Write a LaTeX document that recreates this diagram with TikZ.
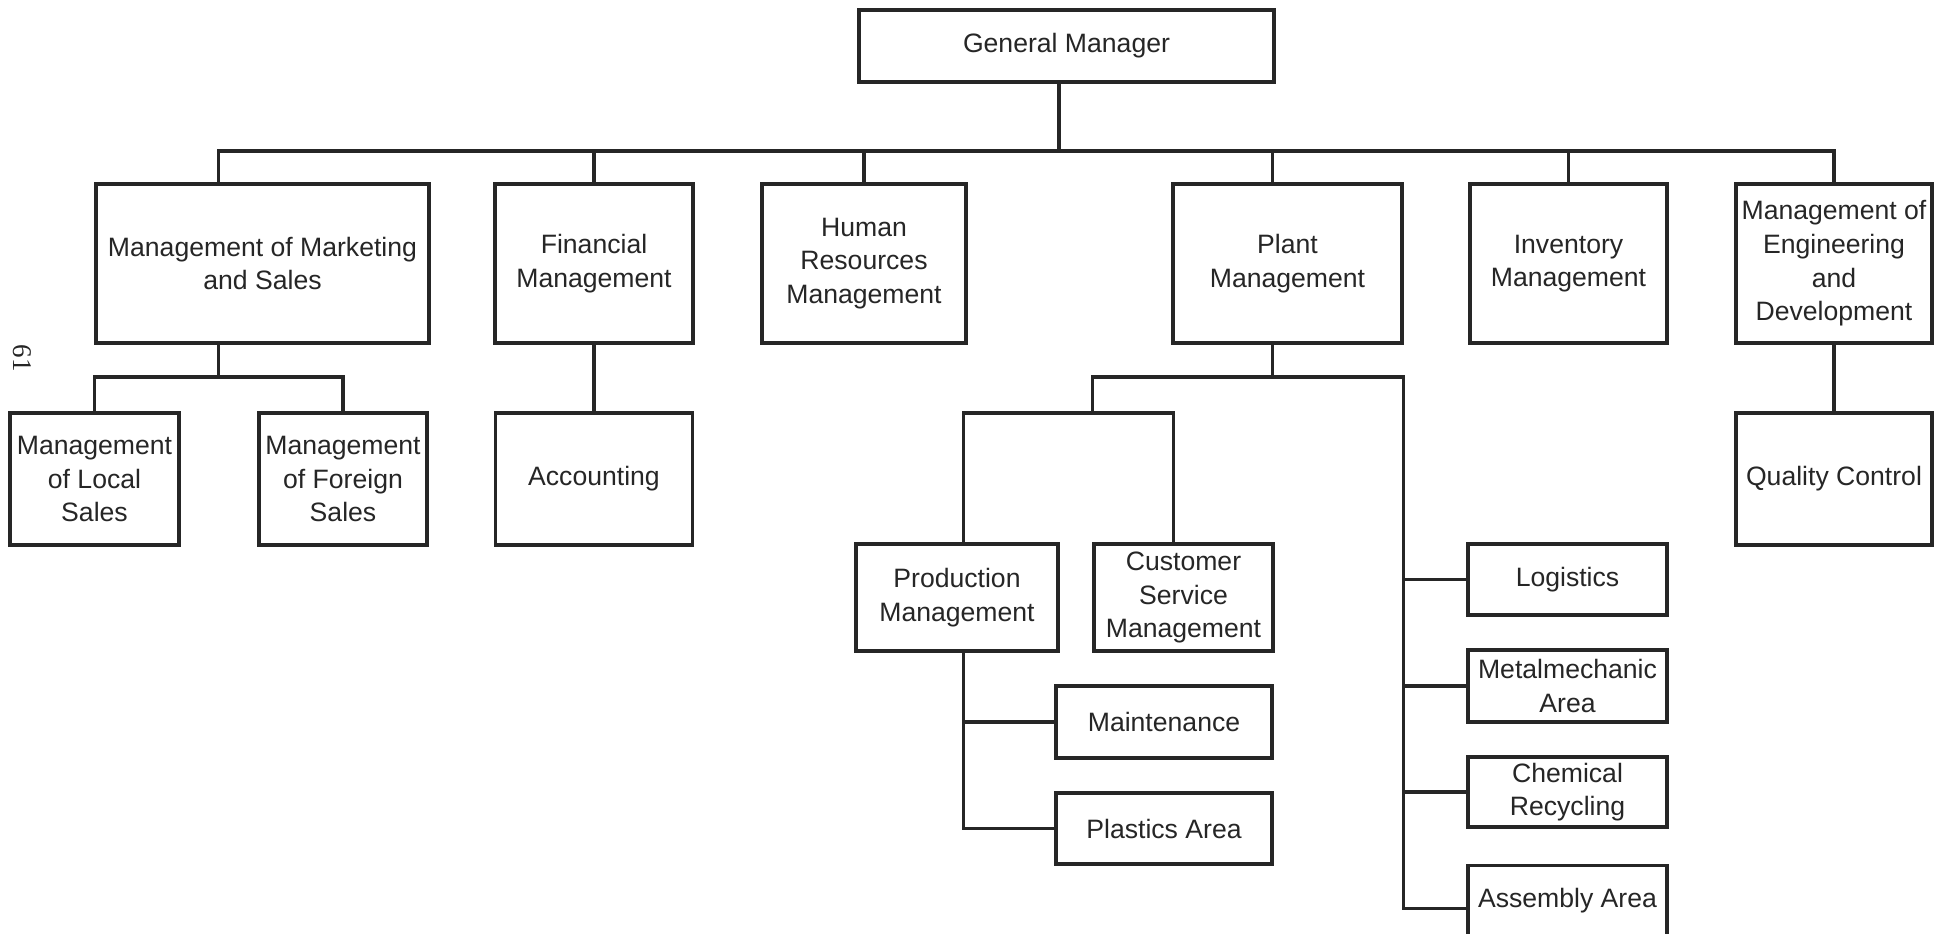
\documentclass[tikz,border=0pt]{standalone}
\usepackage{fontspec}
\setmainfont{Liberation Sans}
\newfontfamily\pgserif{Liberation Serif}
\usetikzlibrary{calc}
\begin{document}
\begin{tikzpicture}[x=0.5pt,y=-0.5pt,
  box/.style={draw=black!85, line width=1.6pt, align=center, inner sep=0pt,
    font=\fontsize{13.3}{16.8}\selectfont, text=black!85},
  ln/.style={draw=black!85, line width=1.6pt}]
\useasboundingbox (0,0) rectangle (1951,933);
\fill[white] (0,0) rectangle (1951,933);
\clip (0,0) rectangle (1951,933);

% nodes
\node[box, minimum width=207.5pt, minimum height=36pt] (gm) at (1066.5,46) {General Manager};

\node[box, minimum width=166.5pt, minimum height=79.5pt] (mkt) at (262.5,263.5) {Management of Marketing\\and Sales};
\node[box, minimum width=99pt, minimum height=79.5pt] (fin) at (594,263.5) {Financial\\Management};
\node[box, minimum width=102pt, minimum height=79.5pt] (hr) at (864,263.5) {Human\\Resources\\Management};
\node[box, minimum width=114.5pt, minimum height=79.5pt] (plant) at (1287.5,263.5) {Plant\\Management};
\node[box, minimum width=98.5pt, minimum height=79.5pt] (inv) at (1568.5,263.5) {Inventory\\Management};
\node[box, minimum width=98pt, minimum height=79.5pt] (eng) at (1834,263.5) {Management of\\Engineering\\and\\Development};

\node[box, minimum width=84.5pt, minimum height=66pt] (local) at (94.5,479) {Management\\of Local\\Sales};
\node[box, minimum width=84pt, minimum height=66pt] (foreign) at (343,479) {Management\\of Foreign\\Sales};
\node[box, minimum width=98.5pt, minimum height=66pt] (acc) at (594,479) {Accounting};
\node[box, minimum width=98pt, minimum height=66pt] (qc) at (1834,479) {Quality Control};

\node[box, minimum width=101pt, minimum height=53.5pt] (prod) at (957,597.5) {Production\\Management};
\node[box, minimum width=89.5pt, minimum height=53.5pt] (cs) at (1183.5,597.5) {Customer\\Service\\Management};
\node[box, minimum width=108pt, minimum height=36pt] (maint) at (1164,722) {Maintenance};
\node[box, minimum width=108pt, minimum height=35.5pt] (plast) at (1164,828.5) {Plastics Area};

\node[box, minimum width=99.5pt, minimum height=35.5pt] (log) at (1567.5,579.5) {Logistics};
\node[box, minimum width=99.5pt, minimum height=36pt] (metal) at (1567.5,686) {Metalmechanic\\Area};
\node[box, minimum width=99.5pt, minimum height=35pt] (chem) at (1567.5,792) {Chemical\\Recycling};
\node[box, minimum width=99.5pt, anchor=north, text height=20.75pt, text depth=22.25pt] (asm) at (1567.5,864) {Assembly Area};

\node[font=\pgserif\fontsize{13.5}{16}\selectfont, text=black!85, rotate=-90, inner sep=0pt] (pg) at (22,358) {61};

% connector helper coordinates
\coordinate (busy) at (0,151);
\coordinate (msbus) at (0,377);
\coordinate (pbus) at (0,377);
\coordinate (sbus) at (0,413);
\coordinate (gmS) at ($(gm.south west)!0.482!(gm.south east)$);
\coordinate (mktN) at ($(mkt.north west)!0.369!(mkt.north east)$);
\coordinate (mktS) at ($(mkt.south west)!0.369!(mkt.south east)$);
\coordinate (plantN) at ($(plant.north west)!0.437!(plant.north east)$);
\coordinate (plantS) at ($(plant.south west)!0.437!(plant.south east)$);
\coordinate (prodN) at ($(prod.north west)!0.53!(prod.north east)$);
\coordinate (prodS) at ($(prod.south west)!0.53!(prod.south east)$);
\coordinate (csN) at ($(cs.north west)!0.444!(cs.north east)$);

% top level
\draw[ln] (gmS) -- (gmS |- busy);
\draw[ln] (mktN) |- (eng.north |- busy) -- (eng.north);
\draw[ln] (fin.north) -- (fin.north |- busy);
\draw[ln] (hr.north) -- (hr.north |- busy);
\draw[ln] (plantN) -- (plantN |- busy);
\draw[ln] (inv.north) -- (inv.north |- busy);

% marketing
\draw[ln] (mktS) -- (mktS |- msbus);
\draw[ln] (local.north) -- (local.north |- msbus) -| (foreign.north);

% financial, engineering
\draw[ln] (fin.south) -- (acc.north);
\draw[ln] (eng.south) -- (qc.north);

% plant
\draw[ln] (plantS) -- (plantS |- pbus);
\draw[ln] (cs.north west |- sbus) |- (pbus -| plant.south east) |- (asm.west);
\draw[ln] (prodN) -- (prodN |- sbus) -| (csN);
\draw[ln] (plant.south east |- log.west) -- (log.west);
\draw[ln] (plant.south east |- metal.west) -- (metal.west);
\draw[ln] (plant.south east |- chem.west) -- (chem.west);

% production
\draw[ln] (prodS) |- (plast.west);
\draw[ln] (prodS |- maint.west) -- (maint.west);
\end{tikzpicture}
\end{document}
